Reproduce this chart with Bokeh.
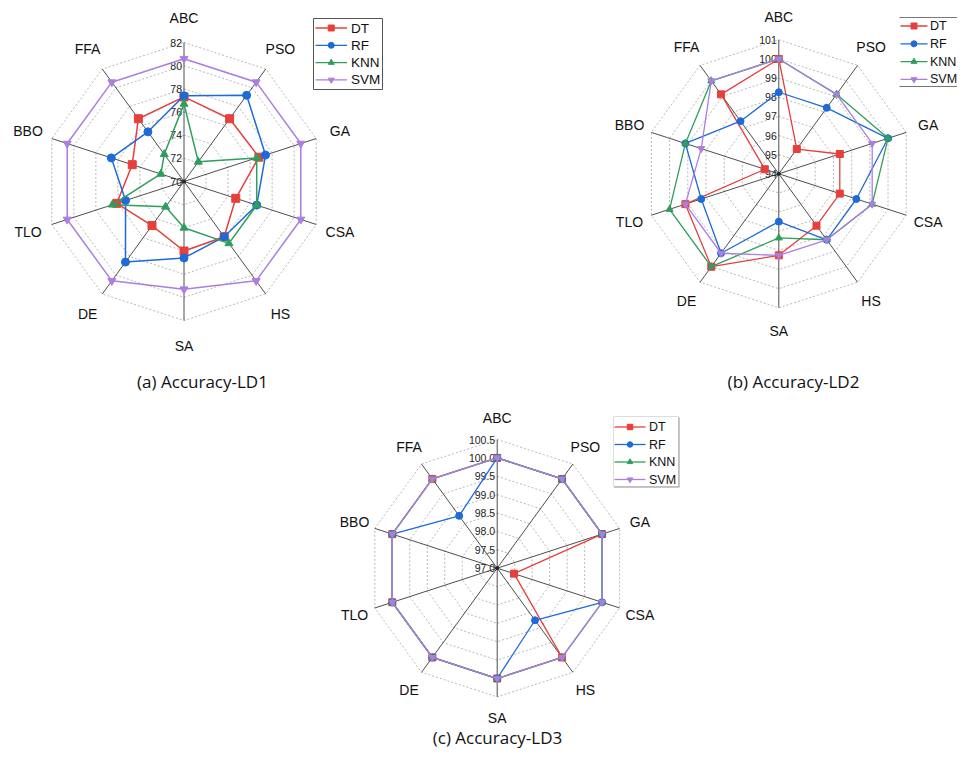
import numpy as np
from bokeh.plotting import figure
from bokeh.models import Range1d
from bokeh.core.properties import value
from bokeh.embed import file_html
from bokeh.resources import INLINE

# ---------------- data ----------------
categories = ["ABC", "PSO", "GA", "CSA", "HS", "SA", "DE", "TLO", "BBO", "FFA"]
series_names = ["DT", "RF", "KNN", "SVM"]

ld1_dt = [77.3, 76.7, 76.8, 74.7, 75.9, 76.0, 74.7, 76.1, 74.7, 76.7]
ld1_rf = [77.4, 79.2, 77.4, 76.6, 75.9, 76.6, 78.6, 75.3, 76.6, 75.3]
ld1_knn = [76.7, 72.1, 76.6, 76.6, 76.6, 74.0, 72.7, 76.5, 72.1, 72.9]
ld1_svm = [80.6, 80.6, 80.6, 80.6, 80.6, 79.3, 80.6, 80.6, 80.6, 80.6]
ld1_ticks = [70, 72, 74, 76, 78, 80, 82]

ld2_dt = [100.0, 95.6, 97.35, 97.35, 97.35, 98.26, 100.0, 99.13, 94.77, 99.13]
ld2_rf = [98.26, 98.26, 100.0, 98.26, 98.26, 96.5, 99.13, 98.26, 99.13, 97.4]
ld2_knn = [100.0, 99.13, 100.0, 99.13, 98.26, 97.35, 100.0, 100.0, 99.13, 100.0]
ld2_svm = [100.0, 99.13, 99.13, 99.13, 98.26, 98.26, 99.13, 99.13, 98.26, 100.0]
ld2_ticks = [94, 95, 96, 97, 98, 99, 100, 101]

ld3_dt = [100.0, 100.0, 100.0, 97.48, 100.0, 100.0, 100.0, 100.0, 100.0, 100.0]
ld3_rf = [100.0, 100.0, 100.0, 100.0, 98.75, 100.0, 100.0, 100.0, 100.0, 98.76]
ld3_knn = [100.0, 100.0, 100.0, 100.0, 100.0, 100.0, 100.0, 100.0, 100.0, 100.0]
ld3_svm = [100.0, 100.0, 100.0, 100.0, 100.0, 100.0, 100.0, 100.0, 100.0, 100.0]
ld3_ticks = [97.0, 97.5, 98.0, 98.5, 99.0, 99.5, 100.0, 100.5]

captions = ["(a) Accuracy-LD1", "(b) Accuracy-LD2", "(c) Accuracy-LD3"]

# ---------------- styles ----------------
COLORS = {"DT": "#e5403b", "RF": "#1d6ad8", "KNN": "#2f9e5c", "SVM": "#ab7ee0"}
MARKERS = {"DT": "square", "RF": "circle", "KNN": "triangle", "SVM": "inverted_triangle"}
FONT = value("Liberation Sans")

W, H = 957, 749
p = figure(width=W, height=H, output_backend="svg", toolbar_location=None,
           x_range=Range1d(0, W), y_range=Range1d(H, 0),
           x_axis_type=None, y_axis_type=None, min_border=0,
           min_border_left=0, min_border_right=0, min_border_top=0, min_border_bottom=0)
p.outline_line_color = None
p.background_fill_color = "white"
p.border_fill_color = "white"

n = len(categories)
angles = np.arange(n) * 2 * np.pi / n


def to_xy(cx, cy, r):
    r = np.asarray(r, dtype=float)
    return cx + r * np.sin(angles), cy - r * np.cos(angles)


def radar(cx, cy, R, ticks, fmt, data, label_r, lw, msize):
    vmin, vmax = ticks[0], ticks[-1]
    scale = R / (vmax - vmin)
    # rings
    xs, ys = [], []
    for t in ticks[1:]:
        x, y = to_xy(cx, cy, np.full(n, (t - vmin) * scale))
        xs.append(list(x) + [x[0]])
        ys.append(list(y) + [y[0]])
    p.multi_line(xs, ys, line_color="#b0b0b0", line_width=0.9, line_dash="2 2")
    # spokes
    ex, ey = to_xy(cx, cy, np.full(n, R))
    p.multi_line([[cx, e] for e in ex], [[cy, e] for e in ey], line_color="#3a3a3a", line_width=0.9)
    # tick labels
    p.text(x=[cx - 2] * len(ticks), y=[cy - (t - vmin) * scale for t in ticks],
           text=[fmt.format(t) for t in ticks], text_font=FONT, text_font_size="10.5px",
           text_align="right", text_baseline="middle", text_color="#222222")
    # category labels
    lx, ly = to_xy(cx, cy, np.full(n, label_r))
    p.text(x=list(lx), y=list(ly), text=categories, text_font=FONT, text_font_size="14px",
           text_align="center", text_baseline="middle", text_color="#111111")
    # series
    for name, vals in zip(series_names, data):
        r = (np.asarray(vals) - vmin) * scale
        x, y = to_xy(cx, cy, r)
        c = COLORS[name]
        p.line(list(x) + [x[0]], list(y) + [y[0]], line_color=c, line_width=lw)
        p.scatter(list(x), list(y), marker=MARKERS[name], size=msize, fill_color=c, line_color=c)
    p.scatter([cx], [cy], marker="circle", size=3, fill_color="#222222", line_color="#222222")


def legend(y0, dy, x_line0, x_line1, x_text, fsize, msize):
    for i, name in enumerate(series_names):
        y = y0 + i * dy
        c = COLORS[name]
        p.line([x_line0, x_line1], [y, y], line_color=c, line_width=1.3)
        p.scatter([(x_line0 + x_line1) / 2], [y], marker=MARKERS[name], size=msize,
                  fill_color=c, line_color=c)
        p.text(x=[x_text], y=[y], text=[name], text_font=FONT, text_font_size=fsize,
               text_align="left", text_baseline="middle", text_color="#111111")


# ---------------- chart (a) ----------------
radar(183.5, 181, 139, ld1_ticks, "{:d}", [ld1_dt, ld1_rf, ld1_knn, ld1_svm], 164, 1.5, 8)
p.quad(left=[313], right=[382], top=[18], bottom=[89], fill_color="white",
       line_color="#555555", line_width=1)
legend(27.5, 17.3, 315, 346.5, 350.5, "13.5px", 6)

# ---------------- chart (b) ----------------
radar(778.3, 173.3, 134, ld2_ticks, "{:d}", [ld2_dt, ld2_rf, ld2_knn, ld2_svm], 157, 1.3, 7)
p.segment(x0=[899, 899], y0=[17, 86], x1=[W, W], y1=[17, 86], line_color="#777777", line_width=1)
legend(25.5, 17.8, 900, 927, 929.5, "12.5px", 6)

# ---------------- chart (c) ----------------
radar(496.7, 567.7, 128.7, ld3_ticks, "{:.1f}", [ld3_dt, ld3_rf, ld3_knn, ld3_svm], 150, 1.3, 7)
p.quad(left=[613], right=[678], top=[416], bottom=[486], fill_color="white",
       line_color="#dddddd", line_width=1)
p.line([678.5, 678.5, 613.5], [417, 486.5, 486.5], line_color="#b5b5b5", line_width=1.5)
legend(426.5, 17.5, 614, 645, 648.5, "12.5px", 5.5)

# ---------------- captions ----------------
p.text(x=[202, 793, 497], y=[381, 381, 737], text=captions, text_font=value("Open Sans"),
       text_font_size="17px", text_align="center", text_baseline="middle", text_color="#111111")

open("out.html", "w").write(file_html(p, INLINE))
